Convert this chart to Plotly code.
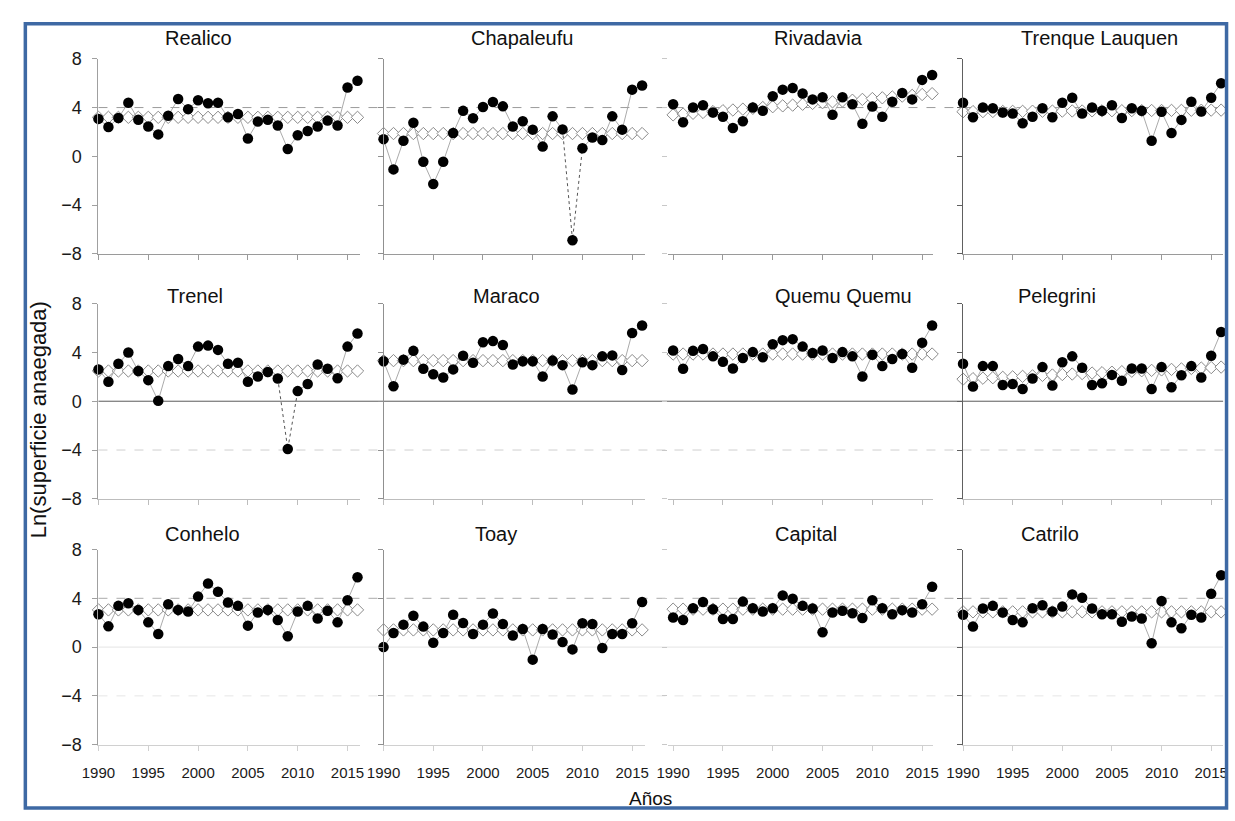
import plotly.graph_objects as go

years = list(range(1990, 2017))

panels = ["Realico", "Chapaleufu", "Rivadavia", "Trenque Lauquen",
          "Trenel", "Maraco", "Quemu Quemu", "Pelegrini",
          "Conhelo", "Toay", "Capital", "Catrilo"]

realico_obs = [3.07, 2.4, 3.15, 4.4, 3.0, 2.45, 1.8, 3.33, 4.7, 3.87, 4.6, 4.35, 4.4, 3.2, 3.47, 1.47, 2.85, 3.0, 2.53, 0.6, 1.73, 2.08, 2.45, 2.93, 2.53, 5.65, 6.2]
realico_fit = [3.2, 3.2, 3.2, 3.2, 3.2, 3.2, 3.2, 3.2, 3.2, 3.2, 3.2, 3.2, 3.2, 3.2, 3.2, 3.2, 3.2, 3.2, 3.2, 3.2, 3.2, 3.2, 3.2, 3.2, 3.2, 3.2, 3.2]

chapaleufu_obs = [1.41, -1.07, 1.28, 2.75, -0.45, -2.27, -0.45, 1.92, 3.73, 3.12, 4.05, 4.45, 4.1, 2.45, 2.88, 2.19, 0.8, 3.28, 2.21, -6.88, 0.67, 1.55, 1.33, 3.28, 2.19, 5.47, 5.81]
chapaleufu_fit = [1.87, 1.87, 1.87, 1.87, 1.87, 1.87, 1.87, 1.87, 1.87, 1.87, 1.87, 1.87, 1.87, 1.87, 1.87, 1.87, 1.87, 1.87, 1.87, 1.87, 1.87, 1.87, 1.87, 1.87, 1.87, 1.87, 1.87]

rivadavia_obs = [4.27, 2.8, 4.0, 4.19, 3.6, 3.25, 2.32, 2.88, 4.0, 3.73, 4.93, 5.47, 5.6, 5.15, 4.67, 4.85, 3.41, 4.85, 4.27, 2.67, 4.08, 3.25, 4.48, 5.2, 4.67, 6.27, 6.67]
rivadavia_fit = [3.40, 3.47, 3.53, 3.60, 3.67, 3.74, 3.80, 3.87, 3.94, 4.00, 4.07, 4.14, 4.20, 4.27, 4.34, 4.40, 4.47, 4.54, 4.60, 4.67, 4.74, 4.80, 4.87, 4.94, 5.00, 5.07, 5.14]

trenque_obs = [4.4, 3.2, 4.0, 3.95, 3.6, 3.52, 2.72, 3.25, 3.95, 3.2, 4.4, 4.8, 3.52, 4.0, 3.73, 4.19, 3.15, 3.95, 3.73, 1.28, 3.65, 1.92, 2.99, 4.48, 3.68, 4.8, 6.0]
trenque_fit = [3.66, 3.67, 3.67, 3.68, 3.68, 3.69, 3.69, 3.70, 3.70, 3.71, 3.71, 3.72, 3.72, 3.73, 3.73, 3.74, 3.74, 3.75, 3.75, 3.76, 3.76, 3.77, 3.77, 3.78, 3.78, 3.79, 3.79]

trenel_obs = [2.61, 1.6, 3.07, 4.0, 2.48, 1.73, 0.03, 2.88, 3.47, 2.88, 4.48, 4.56, 4.21, 3.07, 3.15, 1.6, 2.03, 2.4, 1.87, -3.92, 0.83, 1.41, 3.01, 2.67, 1.89, 4.48, 5.55]
trenel_fit = [2.48, 2.48, 2.48, 2.48, 2.48, 2.48, 2.48, 2.48, 2.48, 2.48, 2.48, 2.48, 2.48, 2.48, 2.48, 2.48, 2.48, 2.48, 2.48, 2.48, 2.48, 2.48, 2.48, 2.48, 2.48, 2.48, 2.48]

maraco_obs = [3.28, 1.23, 3.41, 4.13, 2.67, 2.21, 1.95, 2.61, 3.73, 3.15, 4.83, 4.93, 4.61, 3.01, 3.28, 3.28, 2.03, 3.33, 2.96, 0.96, 3.2, 2.96, 3.68, 3.76, 2.56, 5.6, 6.21]
maraco_fit = [3.33, 3.33, 3.33, 3.33, 3.33, 3.33, 3.33, 3.33, 3.33, 3.33, 3.33, 3.33, 3.33, 3.33, 3.33, 3.33, 3.33, 3.33, 3.33, 3.33, 3.33, 3.33, 3.33, 3.33, 3.33, 3.33, 3.33]

quemu_obs = [4.16, 2.67, 4.13, 4.29, 3.68, 3.23, 2.69, 3.55, 4.03, 3.6, 4.67, 5.01, 5.09, 4.48, 3.95, 4.16, 3.55, 4.03, 3.68, 2.03, 3.81, 2.88, 3.47, 3.87, 2.75, 4.8, 6.21]
quemu_fit = [3.87, 3.87, 3.87, 3.87, 3.87, 3.87, 3.87, 3.87, 3.87, 3.87, 3.87, 3.87, 3.87, 3.87, 3.87, 3.87, 3.87, 3.87, 3.87, 3.87, 3.87, 3.87, 3.87, 3.87, 3.87, 3.87, 3.87]

pelegrini_obs = [3.07, 1.2, 2.88, 2.88, 1.33, 1.41, 1.01, 1.87, 2.8, 1.28, 3.2, 3.68, 2.75, 1.33, 1.47, 2.16, 1.68, 2.69, 2.69, 1.01, 2.8, 1.15, 2.13, 2.88, 1.95, 3.73, 5.68]
pelegrini_fit = [1.81, 1.85, 1.89, 1.93, 1.96, 2.00, 2.04, 2.08, 2.12, 2.15, 2.19, 2.23, 2.27, 2.31, 2.34, 2.38, 2.42, 2.46, 2.50, 2.53, 2.57, 2.61, 2.65, 2.69, 2.72, 2.76, 2.80]

conhelo_obs = [2.7, 1.7, 3.38, 3.59, 3.05, 2.03, 1.08, 3.51, 3.05, 2.92, 4.14, 5.22, 4.54, 3.65, 3.38, 1.76, 2.84, 3.05, 2.22, 0.89, 2.92, 3.38, 2.35, 2.97, 2.03, 3.84, 5.73]
conhelo_fit = [3.05, 3.05, 3.05, 3.05, 3.05, 3.05, 3.05, 3.05, 3.05, 3.05, 3.05, 3.05, 3.05, 3.05, 3.05, 3.05, 3.05, 3.05, 3.05, 3.05, 3.05, 3.05, 3.05, 3.05, 3.05, 3.05, 3.05]

toay_obs = [0.0, 1.16, 1.84, 2.57, 1.68, 0.35, 1.16, 2.65, 1.97, 1.08, 1.84, 2.76, 1.89, 0.95, 1.49, -1.03, 1.49, 1.03, 0.41, -0.19, 1.95, 1.89, -0.08, 1.08, 1.08, 1.95, 3.7]
toay_fit = [1.41, 1.41, 1.41, 1.41, 1.41, 1.41, 1.41, 1.41, 1.41, 1.41, 1.41, 1.41, 1.41, 1.41, 1.41, 1.41, 1.41, 1.41, 1.41, 1.41, 1.41, 1.41, 1.41, 1.41, 1.41, 1.41, 1.41]

capital_obs = [2.43, 2.22, 3.19, 3.7, 3.11, 2.3, 2.3, 3.73, 3.19, 2.92, 3.19, 4.24, 3.97, 3.38, 3.16, 1.22, 2.84, 2.97, 2.78, 2.38, 3.84, 3.19, 2.7, 3.03, 2.84, 3.51, 4.95]
capital_fit = [3.11, 3.11, 3.11, 3.11, 3.11, 3.11, 3.11, 3.11, 3.11, 3.11, 3.11, 3.11, 3.11, 3.11, 3.11, 3.11, 3.11, 3.11, 3.11, 3.11, 3.11, 3.11, 3.11, 3.11, 3.11, 3.11, 3.11]

catrilo_obs = [2.65, 1.68, 3.16, 3.38, 2.84, 2.22, 2.03, 3.19, 3.43, 2.92, 3.32, 4.32, 4.05, 3.16, 2.7, 2.7, 2.08, 2.51, 2.35, 0.32, 3.78, 2.03, 1.54, 2.65, 2.43, 4.38, 5.89]
catrilo_fit = [2.89, 2.89, 2.89, 2.89, 2.89, 2.89, 2.89, 2.89, 2.89, 2.89, 2.89, 2.89, 2.89, 2.89, 2.89, 2.89, 2.89, 2.89, 2.89, 2.89, 2.89, 2.89, 2.89, 2.89, 2.89, 2.89, 2.89]

observed = [realico_obs, chapaleufu_obs, rivadavia_obs, trenque_obs,
            trenel_obs, maraco_obs, quemu_obs, pelegrini_obs,
            conhelo_obs, toay_obs, capital_obs, catrilo_obs]
fitted = [realico_fit, chapaleufu_fit, rivadavia_fit, trenque_fit,
          trenel_fit, maraco_fit, quemu_fit, pelegrini_fit,
          conhelo_fit, toay_fit, capital_fit, catrilo_fit]

# segments drawn dotted (start year, end year)
dotted_spans = {"Chapaleufu": (2008, 2010), "Trenel": (2008, 2010)}

xtick_vals = [1990, 1995, 2000, 2005, 2010, 2015]
xtick_text = ["1990", "1995", "2000", "2005", "2010", "2015"]
ytick_vals = [-8, -4, 0, 4, 8]
ytick_text = ["\u22128", "\u22124", "0", "4", "8"]

# ---------------- layout geometry (pixels) ----------------
W, H = 1235, 821
def fx(p): return p / W
def fy(p): return 1 - p / H

col_dom = [(83, 350), (373.5, 640), (663.5, 933.5), (964, 1229)]
col_rng = [(1990, 2016.3), (1990, 2016.3), (1989.5, 2016.1), (1990, 2016.2)]
row_dom = [(50, 250), (301, 501), (553, 753)]
yaxis_line_color = ["#a0a0a0", "#909090", None, "#606060"]
xaxis_line_color = ["#9a9a9a", "#bdbdbd", "#d0d0d0"]

title_pos = [(185, 29), (515, 29), (817, 29), (1103, 29),
             (181, 293), (499, 293), (842, 293), (1060, 293),
             (189, 537), (488, 537), (804, 537), (1053, 537)]

FONT = "Liberation Sans, Arial, sans-serif"

fig = go.Figure()
layout = dict(
    width=W, height=H, margin=dict(l=0, r=0, t=0, b=0),
    paper_bgcolor="white", plot_bgcolor="rgba(0,0,0,0)",
    showlegend=False, font=dict(family=FONT, color="#111"),
)
shapes = []
annotations = []

for i, name in enumerate(panels):
    r, c = divmod(i, 4)
    k = i + 1
    xa = "x" if k == 1 else f"x{k}"
    ya = "y" if k == 1 else f"y{k}"
    xkey = "xaxis" if k == 1 else f"xaxis{k}"
    ykey = "yaxis" if k == 1 else f"yaxis{k}"

    xl = xaxis_line_color[r]
    layout[xkey] = dict(
        domain=[fx(col_dom[c][0]), fx(col_dom[c][1])],
        range=list(col_rng[c]), anchor=ya,
        showgrid=False, zeroline=False,
        showline=True, linecolor=xl, linewidth=1,
        ticks="outside", ticklen=5, tickcolor=xl, tickwidth=1,
        tickvals=xtick_vals, ticktext=xtick_text,
        showticklabels=(r == 2), ticklabelstandoff=9,
        tickfont=dict(size=15, color="#1a1a1a", family=FONT),
    )
    yl = yaxis_line_color[c]
    layout[ykey] = dict(
        domain=[fy(row_dom[r][1]), fy(row_dom[r][0])],
        range=[-8, 8], anchor=xa,
        showgrid=False, zeroline=False,
        showline=yl is not None, linecolor=yl or "#bbb", linewidth=1,
        ticks="outside", ticklen=5, tickcolor=yl or "#c8c8c8", tickwidth=1,
        tickvals=ytick_vals, ticktext=ytick_text,
        showticklabels=(c == 0), ticklabelstandoff=7,
        tickfont=dict(size=18, color="#1a1a1a", family=FONT),
    )

    obs = observed[i]
    fit = fitted[i]

    fig.add_trace(go.Scatter(
        x=years, y=fit, xaxis=xa, yaxis=ya, mode="lines+markers",
        line=dict(color="#b0b0b0", width=1),
        marker=dict(symbol="diamond", size=9.5, color="white",
                    line=dict(color="#8a8a8a", width=1)),
        cliponaxis=False, hoverinfo="skip"))

    if name in dotted_spans:
        a, b = dotted_spans[name]
        sx, sy, dx, dy = [], [], [], []
        for yr, v in zip(years, obs):
            if yr <= a or yr >= b:
                if yr == b:
                    sx.append(None); sy.append(None)
                sx.append(yr); sy.append(v)
            if a <= yr <= b:
                dx.append(yr); dy.append(v)
        fig.add_trace(go.Scatter(x=sx, y=sy, xaxis=xa, yaxis=ya, mode="lines",
                                 line=dict(color="#a0a0a0", width=0.9),
                                 connectgaps=False, cliponaxis=False, hoverinfo="skip"))
        fig.add_trace(go.Scatter(x=dx, y=dy, xaxis=xa, yaxis=ya, mode="lines",
                                 line=dict(color="#555555", width=1, dash="dot"),
                                 cliponaxis=False, hoverinfo="skip"))
    else:
        fig.add_trace(go.Scatter(x=years, y=obs, xaxis=xa, yaxis=ya, mode="lines",
                                 line=dict(color="#a0a0a0", width=0.9),
                                 cliponaxis=False, hoverinfo="skip"))

    fig.add_trace(go.Scatter(
        x=years, y=obs, xaxis=xa, yaxis=ya, mode="markers",
        marker=dict(symbol="circle", size=10.5, color="black",
                    line=dict(color="black", width=0)),
        cliponaxis=False, hoverinfo="skip"))

    tx, ty = title_pos[i]
    annotations.append(dict(
        text=name, x=fx(tx), y=fy(ty), xref="paper", yref="paper",
        showarrow=False, xanchor="center", yanchor="middle",
        font=dict(size=20, color="#111", family=FONT)))

ref_lines = [
    ("y", 4, "#9c9c9c", "dash"),
    ("y5", 0, "#5a5a5a", "solid"),
    ("y5", -4, "#cfcfcf", "dash"),
    ("y9", 4, "#ababab", "dash"),
    ("y9", 0, "#e4e4e4", "solid"),
    ("y9", -4, "#e6e6e6", "dash"),
]
for yref, v, col, dash in ref_lines:
    shapes.append(dict(type="line", xref="paper", yref=yref,
                       x0=fx(83), x1=fx(1229), y0=v, y1=v,
                       line=dict(color=col, width=1, dash=dash), layer="below"))

# outer blue frame
shapes.append(dict(type="rect", xref="paper", yref="paper",
                   x0=fx(8.5), x1=fx(1232.5), y0=fy(818), y1=fy(14),
                   line=dict(color="#3e69a4", width=3.5), layer="above"))

annotations.append(dict(
    text="Ln(superficie anaegada)", x=fx(22), y=fy(420), xref="paper", yref="paper",
    showarrow=False, textangle=-90, xanchor="center", yanchor="middle",
    font=dict(size=22, color="#111", family=FONT)))
annotations.append(dict(
    text="Años", x=fx(646), y=fy(808), xref="paper", yref="paper",
    showarrow=False, xanchor="center", yanchor="middle",
    font=dict(size=19, color="#111", family=FONT)))

layout["shapes"] = shapes
layout["annotations"] = annotations
fig.update_layout(**layout)

fig.write_html("out.html",
               post_script="document.body.style.margin='0';document.body.style.overflow='hidden';")
